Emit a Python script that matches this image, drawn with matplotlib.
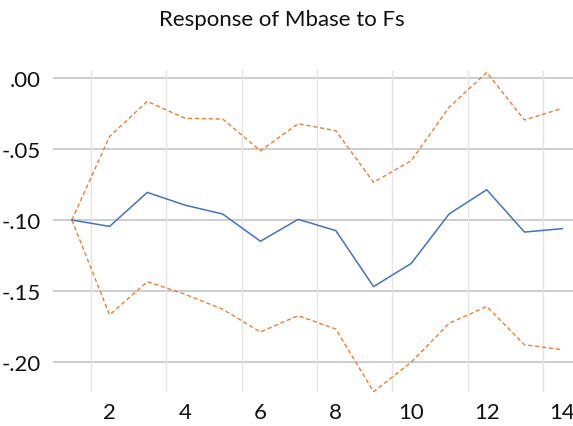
import matplotlib
matplotlib.use("Agg")
import matplotlib.pyplot as plt

periods = list(range(1, 15))
response = [-0.100, -0.1045, -0.0805, -0.0895, -0.0958, -0.115, -0.0995,
            -0.1075, -0.147, -0.1306, -0.0958, -0.0786, -0.1085, -0.1061]
upper = [-0.100, -0.041, -0.0162, -0.0282, -0.0287, -0.0511, -0.032,
         -0.037, -0.0734, -0.0581, -0.0205, 0.0042, -0.0294, -0.0212]
lower = [-0.100, -0.167, -0.1435, -0.1524, -0.163, -0.179, -0.1675,
         -0.177, -0.2212, -0.2004, -0.173, -0.161, -0.188, -0.1915]
ytick_vals = [0.00, -0.05, -0.10, -0.15, -0.20]
ytick_labels = [".00", "-.05", "-.10", "-.15", "-.20"]
xtick_vals = [2, 4, 6, 8, 10, 12, 14]
title = "Response of Mbase to Fs"

plt.rcParams['font.family'] = ['Lato', 'DejaVu Sans']

W, H = 573, 427
fig = plt.figure(figsize=(W / 100, H / 100), dpi=100)
left, right, top, bottom = 53, 581, 71, 393
ax = fig.add_axes([left / W, 1 - bottom / H, (right - left) / W, (bottom - top) / H])

ax.set_xlim(0.5, 14.5)
ax.set_ylim(-0.2214, 0.0059)

for s in ax.spines.values():
    s.set_visible(False)

# horizontal gridlines at tick values
for v in ytick_vals:
    ax.axhline(v, color="#c9c9c9", lw=1.3, zorder=1)
# vertical gridlines between periods
for v in [1.5 + 2 * i for i in range(7)]:
    ax.axvline(v, color="#e4e4e4", lw=1.0, zorder=1)

ax.plot(periods, upper, color="#ED7D31", lw=1.0, ls=(0, (3, 2)), zorder=3)
ax.plot(periods, lower, color="#ED7D31", lw=1.0, ls=(0, (3, 2)), zorder=3)
ax.plot(periods, response, color="#4472C4", lw=1.1, zorder=4)

ax.set_yticks(ytick_vals)
ax.set_yticklabels(ytick_labels)
ax.set_xticks(xtick_vals)
ax.set_xticklabels([str(v) for v in xtick_vals])
ax.tick_params(axis="both", length=0, labelsize=16, colors="#111111")
ax.tick_params(axis="y", pad=9)
ax.tick_params(axis="x", pad=7)

fig.text(282 / W, 1 - 20 / H, title, ha="center", va="center", fontsize=16, color="#111111")

fig.savefig("out.png", dpi=100)
